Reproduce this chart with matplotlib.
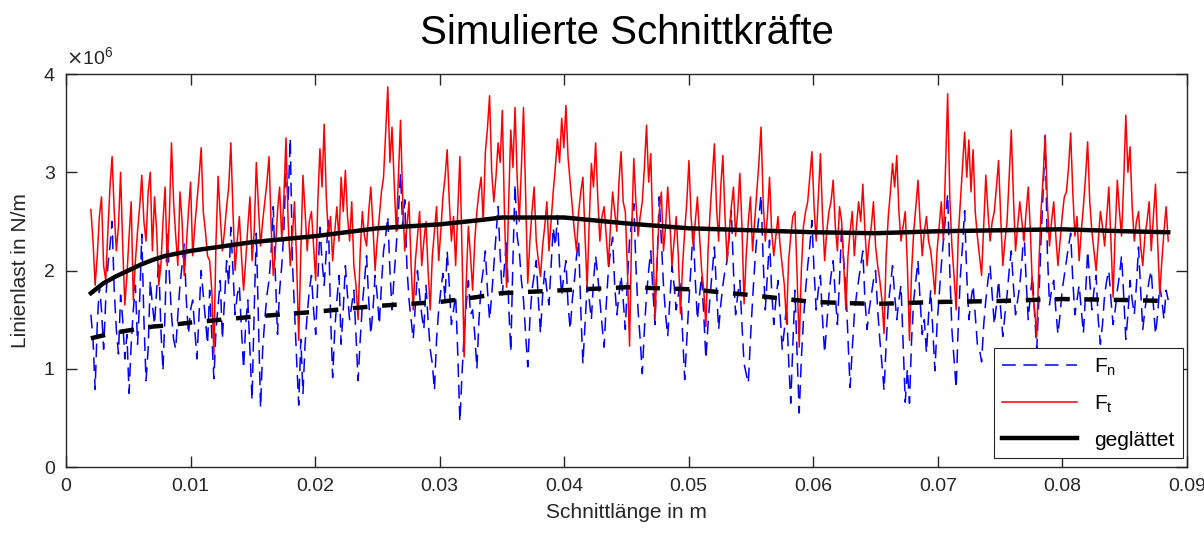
import matplotlib
matplotlib.use('Agg')
import matplotlib.pyplot as plt
import numpy as np

plt.rcParams['font.family'] = ['Liberation Sans', 'DejaVu Sans']

# Schnittlänge range of the simulated signals (m)
x_start = 0.002
x_end = 0.0885

# Ft, tangential line load (x 1e6 N/m)
ft = [2.62, 2.30, 1.85, 2.15, 2.55, 2.75, 2.05, 1.90, 2.40, 2.85, 3.16, 2.60, 2.20, 2.45, 3.00, 2.25, 1.65, 1.95, 2.35, 2.70,
      1.70, 2.10, 2.40, 2.65, 2.97, 2.50, 2.30, 2.80, 3.00, 2.20, 2.75, 2.40, 1.85, 2.05, 2.50, 2.85, 2.05, 2.55, 3.30, 2.70,
      2.35, 2.05, 2.80, 2.50, 1.95, 2.25, 2.60, 2.90, 2.15, 2.45, 2.70, 2.95, 3.25, 2.60, 2.40, 2.15, 2.10, 1.80, 1.15, 2.30,
      2.96, 2.55, 2.20, 2.40, 2.65, 2.85, 3.30, 2.60, 2.00, 2.30, 2.55, 2.15, 1.80, 2.10, 2.45, 2.75, 2.10, 2.40, 3.10, 2.65,
      2.25, 2.50, 2.70, 2.90, 3.16, 2.45, 1.95, 2.20, 2.60, 2.85, 2.30, 2.75, 3.35, 2.50, 2.05, 2.35, 2.70, 2.10, 1.29, 2.20,
      2.97, 2.60, 2.20, 2.50, 2.60, 2.25, 1.90, 2.70, 3.24, 2.85, 3.49, 2.75, 2.35, 2.55, 2.10, 2.40, 2.65, 2.30, 2.95, 2.60,
      3.02, 2.55, 2.30, 2.70, 2.05, 1.85, 1.50, 2.20, 2.60, 2.35, 2.25, 2.60, 2.85, 2.45, 2.00, 2.30, 2.55, 2.80, 2.95, 3.40,
      3.87, 3.10, 3.46, 2.90, 2.40, 2.95, 3.53, 2.75, 2.20, 2.45, 2.70, 2.05, 1.60, 2.10, 2.35, 2.60, 2.05, 2.30, 2.50, 2.00,
      1.60, 2.15, 2.40, 2.65, 2.10, 2.40, 2.75, 2.95, 3.23, 2.70, 2.30, 2.55, 2.05, 2.60, 3.16, 2.20, 1.12, 1.90, 2.45, 2.15,
      1.80, 2.30, 2.60, 2.80, 2.95, 2.50, 3.20, 3.45, 3.78, 3.00, 2.70, 2.95, 3.30, 3.10, 3.63, 2.60, 1.83, 2.70, 3.43, 3.05,
      3.66, 2.95, 2.50, 3.05, 3.66, 2.75, 1.87, 2.30, 2.60, 2.85, 2.30, 2.10, 1.94, 2.25, 2.45, 2.70, 2.20, 2.50, 2.80, 3.05,
      3.34, 3.10, 3.55, 3.25, 3.68, 3.15, 2.90, 2.65, 2.40, 2.20, 2.60, 2.80, 2.95, 2.35, 1.83, 2.50, 3.09, 2.85, 3.30, 2.75,
      2.30, 2.55, 2.65, 2.35, 2.05, 2.45, 2.80, 2.60, 2.40, 2.90, 3.21, 2.70, 2.60, 2.00, 1.23, 2.40, 3.14, 2.70, 2.35, 2.55,
      2.70, 3.05, 3.48, 2.90, 3.19, 2.35, 1.51, 2.10, 2.60, 2.80, 2.20, 2.45, 2.85, 2.50, 2.05, 2.30, 2.55, 2.15, 1.56, 2.05,
      2.40, 2.70, 3.12, 2.55, 2.25, 2.50, 2.75, 2.35, 2.00, 1.80, 1.43, 2.20, 2.60, 2.95, 3.29, 2.65, 2.30, 2.85, 3.17, 2.55,
      2.10, 2.40, 2.65, 2.85, 2.35, 2.60, 2.99, 2.45, 1.66, 2.15, 2.50, 2.75, 2.20, 2.50, 2.80, 3.10, 3.46, 2.70, 2.30, 2.55,
      2.95, 2.40, 2.15, 2.35, 2.55, 2.25, 2.05, 1.85, 1.46, 2.10, 2.35, 2.55, 2.60, 1.95, 1.22, 2.00, 2.45, 2.60, 2.70, 2.95,
      3.21, 2.65, 2.30, 2.75, 3.19, 2.55, 2.10, 2.40, 2.60, 2.70, 2.92, 2.45, 2.20, 2.65, 2.50, 2.05, 1.60, 2.15, 2.40, 2.60,
      2.15, 2.45, 2.70, 2.50, 2.88, 2.40, 2.05, 2.30, 2.45, 2.70, 2.25, 2.05, 1.90, 1.70, 1.36, 2.15, 2.55, 2.80, 3.09, 2.85,
      3.17, 2.60, 2.30, 2.45, 2.60, 2.05, 1.29, 2.00, 2.40, 2.65, 2.92, 2.50, 2.15, 2.40, 2.55, 2.30, 2.20, 2.00, 1.76, 2.20,
      2.45, 2.70, 2.30, 3.05, 3.80, 2.75, 2.25, 1.95, 1.60, 2.35, 2.70, 3.05, 3.41, 2.95, 3.33, 2.80, 3.23, 2.60, 2.35, 2.15,
      1.95, 2.45, 2.97, 2.60, 2.30, 2.50, 2.60, 2.85, 3.12, 2.55, 2.05, 2.30, 2.50, 2.95, 3.43, 2.75, 2.20, 2.45, 2.70, 2.50,
      2.30, 2.60, 2.85, 2.40, 1.80, 1.60, 1.33, 2.05, 2.60, 2.95, 3.38, 2.70, 2.25, 2.50, 2.70, 2.35, 2.05, 2.30, 2.55, 2.75,
      2.80, 3.05, 3.40, 2.80, 2.35, 2.55, 2.10, 2.40, 2.65, 2.95, 3.31, 2.70, 2.40, 2.20, 2.00, 2.30, 2.60, 2.45, 2.25, 2.55,
      2.85, 2.30, 1.73, 2.40, 2.92, 2.60, 2.35, 2.90, 3.58, 3.00, 3.26, 2.65, 2.30, 2.50, 2.60, 2.25, 2.05, 2.35, 2.50, 2.70,
      2.20, 2.55, 2.88, 2.30, 1.76, 2.10, 2.40, 2.65, 2.30]

# Fn, normal line load (x 1e6 N/m)
fn = [1.55, 1.30, 0.79, 1.45, 1.85, 1.60, 1.20, 1.70, 2.05, 2.25, 2.50, 1.80, 1.40, 1.15, 1.75, 1.50, 1.10, 1.35, 0.75, 1.25,
      1.60, 1.85, 1.25, 1.70, 2.37, 1.50, 0.88, 1.20, 1.90, 1.65, 1.45, 1.80, 2.10, 1.40, 0.98, 1.60, 2.37, 1.95, 1.55, 1.30,
      1.20, 1.55, 1.85, 2.05, 2.27, 1.70, 1.35, 1.60, 1.70, 1.40, 1.10, 1.55, 2.00, 1.75, 1.50, 1.25, 1.80, 1.35, 0.90, 1.40,
      1.65, 1.90, 1.30, 1.70, 2.10, 1.85, 2.44, 2.00, 1.55, 1.75, 1.85, 1.40, 1.00, 1.45, 1.70, 1.20, 0.68, 1.60, 2.38, 1.50,
      0.60, 1.20, 1.50, 1.75, 1.90, 2.20, 2.65, 1.95, 1.35, 1.80, 2.05, 2.40, 3.09, 2.70, 3.35, 2.10, 1.60, 1.10, 0.63, 1.30,
      0.75, 1.25, 1.55, 1.80, 1.95, 1.60, 1.35, 1.90, 2.44, 2.10, 1.85, 2.20, 2.51, 1.55, 0.91, 1.40, 1.70, 1.95, 1.25, 1.60,
      2.05, 1.75, 1.50, 1.65, 1.80, 1.35, 0.88, 1.30, 1.65, 1.90, 2.15, 1.70, 1.35, 1.60, 1.95, 1.75, 1.45, 1.85, 2.20, 2.35,
      2.55, 2.00, 1.60, 1.95, 2.25, 2.60, 2.99, 2.45, 2.72, 2.05, 1.70, 1.50, 1.30, 1.65, 2.00, 1.75, 1.55, 1.40, 1.85, 1.50,
      1.20, 1.05, 0.78, 1.30, 1.60, 1.80, 1.97, 1.70, 2.20, 1.85, 1.45, 1.60, 1.75, 1.15, 0.46, 0.95, 1.35, 1.65, 1.90, 1.55,
      1.60, 1.35, 1.00, 1.50, 1.85, 2.00, 2.20, 1.80, 1.50, 1.75, 2.05, 2.35, 2.65, 2.15, 1.75, 2.05, 2.30, 1.65, 1.17, 2.10,
      2.88, 2.35, 2.20, 1.90, 1.70, 1.35, 1.02, 1.50, 1.80, 1.95, 2.10, 1.70, 1.36, 1.75, 2.00, 1.80, 1.65, 2.05, 2.44, 2.25,
      2.56, 2.05, 1.75, 1.95, 2.10, 1.65, 1.40, 1.70, 1.90, 2.15, 2.30, 1.60, 1.05, 1.45, 1.85, 1.70, 1.50, 1.90, 2.15, 1.95,
      1.70, 1.45, 1.22, 1.65, 2.00, 2.20, 2.34, 1.85, 1.55, 1.75, 1.95, 1.70, 1.40, 1.90, 2.31, 2.50, 2.68, 2.05, 1.60, 1.30,
      0.95, 1.40, 1.75, 2.00, 2.20, 1.80, 1.45, 2.10, 2.75, 2.30, 1.85, 1.55, 1.33, 1.70, 2.05, 1.85, 1.60, 1.75, 1.90, 1.35,
      0.89, 1.30, 1.70, 2.05, 2.44, 1.90, 1.50, 1.75, 1.95, 1.55, 1.10, 1.45, 1.75, 2.00, 2.24, 1.80, 1.40, 1.65, 1.85, 2.00,
      2.10, 2.35, 2.61, 2.00, 1.55, 1.75, 1.90, 1.45, 1.05, 0.95, 0.85, 1.30, 1.70, 2.05, 2.34, 2.55, 2.77, 2.10, 1.60, 1.95,
      2.31, 1.80, 1.45, 1.70, 1.90, 1.55, 1.20, 1.40, 1.65, 1.10, 0.65, 1.25, 1.80, 1.15, 0.55, 1.10, 1.50, 1.80, 2.05, 2.25,
      2.51, 2.00, 1.60, 1.80, 1.95, 1.50, 1.16, 1.45, 1.75, 1.95, 2.10, 1.75, 1.45, 1.90, 2.44, 2.10, 1.85, 1.30, 0.81, 1.20,
      1.55, 1.75, 1.90, 2.05, 2.20, 1.70, 1.40, 1.60, 1.75, 1.90, 2.00, 1.60, 1.30, 1.05, 0.78, 1.25, 1.65, 1.85, 2.05, 1.75,
      1.50, 1.70, 1.85, 1.25, 0.66, 1.00, 0.65, 1.30, 1.70, 1.90, 2.10, 1.70, 1.35, 1.50, 1.16, 1.55, 1.80, 1.40, 0.98, 1.45,
      1.75, 2.05, 2.31, 2.55, 2.78, 2.00, 1.40, 1.10, 0.80, 1.45, 1.95, 2.25, 2.61, 1.95, 1.50, 1.70, 1.85, 1.55, 1.25, 1.20,
      1.07, 1.45, 1.70, 1.90, 2.05, 1.75, 1.45, 1.65, 1.90, 1.60, 1.33, 1.55, 1.75, 2.00, 2.20, 1.85, 1.55, 1.70, 1.85, 2.10,
      2.41, 1.90, 1.50, 1.75, 1.95, 1.55, 1.20, 1.70, 2.30, 2.80, 3.37, 2.20, 1.65, 1.80, 1.90, 1.60, 1.35, 1.55, 1.80, 1.95,
      2.10, 2.25, 2.38, 1.90, 1.55, 1.70, 1.85, 1.60, 1.36, 1.75, 2.20, 1.90, 1.60, 1.80, 1.95, 1.50, 1.25, 1.45, 1.75, 1.90,
      2.00, 1.70, 1.45, 1.60, 1.80, 1.95, 2.15, 1.75, 1.30, 1.55, 1.90, 1.70, 1.55, 1.85, 2.24, 1.80, 1.40, 1.60, 1.75, 1.90,
      2.00, 1.65, 1.35, 1.55, 1.85, 1.70, 1.50, 1.80, 1.70]

# smoothed curves ("geglättet")
x_smooth = [0.002, 0.003, 0.004, 0.005, 0.006, 0.007, 0.008, 0.010, 0.015, 0.020,
            0.025, 0.030, 0.033, 0.035, 0.040, 0.045, 0.050, 0.055, 0.060, 0.065,
            0.070, 0.075, 0.080, 0.085, 0.0885]
ft_smooth = [1.77, 1.87, 1.94, 2.00, 2.06, 2.11, 2.15, 2.20, 2.29, 2.35,
             2.43, 2.47, 2.51, 2.54, 2.54, 2.48, 2.43, 2.41, 2.39, 2.38,
             2.40, 2.41, 2.42, 2.40, 2.39]
fn_smooth = [1.31, 1.34, 1.37, 1.39, 1.41, 1.43, 1.44, 1.47, 1.53, 1.58,
             1.64, 1.68, 1.73, 1.77, 1.80, 1.83, 1.81, 1.75, 1.68, 1.66,
             1.68, 1.69, 1.71, 1.70, 1.69]

x_sig = np.linspace(x_start, x_end, len(ft))

fig = plt.figure(figsize=(12.04, 5.48), dpi=100)
ax = fig.add_axes([0.0548, 0.1478, 0.931, 0.717])

axcol = '#262626'
l1, = ax.plot(x_sig, fn, color='#0000ff', lw=1.1, linestyle=(0, (9, 5)), label=r'F$_\mathregular{n}$')
l2, = ax.plot(x_sig, ft, color='#ff0000', lw=1.1, label=r'F$_\mathregular{t}$')
ax.plot(x_smooth, fn_smooth, color='black', lw=3.2, linestyle=(0, (3.3, 3.3)))
l3, = ax.plot(x_smooth, ft_smooth, color='black', lw=3.2, label='geglättet')

ax.set_xlim(0, 0.09)
ax.set_ylim(0, 4)
ax.set_xticks(np.arange(0, 0.0901, 0.01))
ax.set_xticklabels(['0', '0.01', '0.02', '0.03', '0.04', '0.05', '0.06', '0.07', '0.08', '0.09'])
ax.set_yticks([0, 1, 2, 3, 4])
ax.tick_params(direction='in', length=8, width=1, colors=axcol, labelsize=14,
               top=True, right=True, pad=8)
for s in ax.spines.values():
    s.set_color(axcol)
    s.set_linewidth(1.0)

ax.set_xlabel('Schnittlänge in m', fontsize=15, color=axcol, labelpad=6)
ax.set_ylabel('Linienlast in N/m', fontsize=15, color=axcol, labelpad=10)
ax.set_title('Simulierte Schnittkräfte', fontsize=29, pad=22)
ax.text(0.0, 1.012, r'$\times$10$^\mathregular{6}$', transform=ax.transAxes,
        fontsize=14, color=axcol, ha='left', va='bottom')

leg = ax.legend(handles=[l1, l2, l3], loc='lower right', fontsize=15,
                fancybox=False, framealpha=1, edgecolor=axcol,
                handlelength=3.6, labelspacing=0.75, borderaxespad=0,
                bbox_to_anchor=(0.9964, 0.0229))
leg.get_frame().set_linewidth(0.8)

fig.savefig('out.png', dpi=100)
